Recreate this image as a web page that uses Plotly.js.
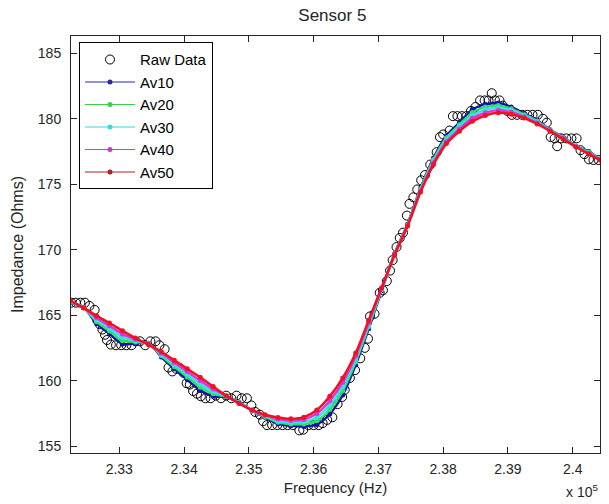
<!DOCTYPE html>
<html>
<head>
<meta charset="utf-8">
<script src="https://cdn.plot.ly/plotly-3.0.1.min.js"></script>
<style>html,body{margin:0;padding:0;background:#fff;}#chart{width:609px;height:504px;}</style>
</head>
<body>
<div id="chart"></div>
<script>
// Raw measurements (Hz, Ohms)
var rawFreq = [
 232260,232330,232400,232470,232540,232620,232660,232700,232740,232780,
 232810,232870,232950,233030,233110,233190,233250,233320,233400,233480,
 233560,233620,233700,233760,233820,233880,233940,233990,234040,234090,
 234140,234200,234260,234330,234410,234490,234570,234650,234730,234810,
 234890,234970,235040,235100,235170,235220,235280,235360,235440,235520,
 235600,235680,235780,235840,235920,236000,236080,236140,236210,236290,
 236370,236440,236480,236560,236640,236720,236790,236840,236870,236940,
 237020,237070,237130,237180,237220,237280,237330,237380,237440,237480,
 237540,237600,237660,237720,237800,237900,237950,238000,238100,238150,
 238220,238290,238360,238430,238500,238570,238640,238700,238750,238800,
 238870,238920,238990,239060,239140,239220,239300,239380,239460,239540,
 239600,239660,239720,239760,239820,239900,239980,240060,240120,240180,
 240250,240320,240400];
var rawImp = [
 165.95,165.95,165.95,165.95,165.7,165.4,164.6,164.3,163.9,163.5,
 163.1,162.75,162.7,162.7,162.7,162.7,163.0,163.0,162.7,163.0,
 163.0,162.7,162.4,161.0,160.7,160.9,160.95,160.6,159.8,159.7,
 159.2,159.0,158.8,158.65,158.65,158.85,158.65,158.85,158.65,158.85,
 158.65,158.65,158.1,157.6,157.4,156.9,156.6,156.6,156.6,156.6,
 156.6,156.6,156.2,156.25,156.6,156.6,156.6,156.75,157.0,157.2,
 158.2,158.75,159.3,160.2,160.8,161.7,162.5,163.2,164.9,165.1,
 166.7,166.9,167.6,168.4,169.2,170.2,170.9,171.3,172.6,173.5,
 174.0,174.6,175.3,175.7,176.5,177.45,178.6,178.8,179.1,180.2,
 180.2,180.2,180.2,180.6,180.9,181.4,181.4,181.4,181.95,181.4,
 181.4,181.0,180.6,180.3,180.3,180.3,180.3,180.3,180.3,180.0,
 179.7,178.6,178.5,177.9,178.5,178.5,178.5,178.5,177.6,177.3,
 176.9,176.85,176.85];

// Averaged series (Hz, Ohms)
var avFreq = [232250,232450,232650,232850,233050,233250,233450,233650,233850,234050,
 234250,234450,234650,234850,235050,235250,235450,235650,235850,236050,
 236250,236450,236650,236850,237050,237250,237450,237650,237850,238050,
 238250,238450,238650,238850,239050,239250,239450,239650,239850,240050,
 240250,240420];
var av10 = [165.95,165.60,164.35,163.57,162.80,162.85,162.85,161.80,160.90,160.07,
 159.25,158.80,158.75,158.35,157.70,157.20,156.70,156.55,156.50,156.65,
 157.45,158.90,161.20,163.96,166.87,169.70,171.94,174.70,177.00,178.70,
 179.70,180.70,181.10,181.20,180.90,180.40,179.90,179.15,178.60,177.90,
 177.50,176.90];
var av20 = [165.99,165.59,164.50,163.78,163.05,162.95,162.83,161.90,161.06,160.28,
 159.50,158.99,158.78,158.33,157.71,157.25,156.82,156.68,156.68,156.93,
 157.79,159.23,161.43,164.12,166.93,169.68,171.91,174.63,176.88,178.55,
 179.54,180.48,180.89,181.01,180.76,180.31,179.83,179.13,178.56,177.89,
 177.45,176.89];
var av30 = [166.03,165.58,164.65,163.99,163.30,163.05,162.80,162.00,161.23,160.49,
 159.75,159.18,158.80,158.30,157.73,157.30,156.94,156.82,156.85,157.20,
 158.13,159.55,161.65,164.28,166.99,169.65,171.87,174.55,176.75,178.40,
 179.38,180.25,180.68,180.83,180.63,180.23,179.75,179.10,178.53,177.88,
 177.40,176.88];
var av40 = [166.06,165.56,164.80,164.19,163.55,163.15,162.78,162.10,161.39,160.69,
 160.00,159.36,158.83,158.28,157.74,157.35,157.06,156.95,157.03,157.48,
 158.46,159.88,161.88,164.44,167.04,169.63,171.84,174.48,176.63,178.25,
 179.21,180.03,180.46,180.64,180.49,180.14,179.68,179.08,178.49,177.86,
 177.35,176.86];
var av50 = [166.10,165.55,164.95,164.40,163.80,163.25,162.75,162.20,161.55,160.90,
 160.25,159.55,158.85,158.25,157.75,157.40,157.18,157.08,157.20,157.75,
 158.80,160.20,162.10,164.60,167.10,169.60,171.80,174.40,176.50,178.10,
 179.05,179.80,180.25,180.45,180.35,180.05,179.60,179.05,178.45,177.85,
 177.30,176.85];

var seriesNames = ['Av10','Av20','Av30','Av40','Av50'];
var seriesValues = [av10, av20, av30, av40, av50];
var seriesColors = ['#1212a8','#30e060','#2fe6e6','#e030e0','#f0121e'];
var legendColors = ['#2a2a9c','#3ad04a','#3ad8d8','#c83cc8','#b02020'];

var xTickVals = [233000,234000,235000,236000,237000,238000,239000,240000];
var xTickText = ['2.33','2.34','2.35','2.36','2.37','2.38','2.39','2.4'];
var yTickVals = [155,160,165,170,175,180,185];

var FONT = 'Liberation Sans, Arial, Helvetica, sans-serif';
var AX = '#262626';

var traces = [{
  x: rawFreq, y: rawImp, name: 'Raw Data', type: 'scatter', mode: 'markers',
  legendrank: 1,
  marker: {symbol: 'circle-open', size: 9, color: '#000', line: {width: 1, color: '#000'}}
}];
// plotted averaged curves (thick, dense look)
seriesNames.forEach(function (n, i) {
  traces.push({
    x: avFreq, y: seriesValues[i], name: n, type: 'scatter', mode: 'lines+markers',
    legendgroup: n, showlegend: false,
    line: {color: seriesColors[i], width: 2.5, shape: 'spline', smoothing: 0.8},
    marker: {symbol: 'circle', size: 5, color: seriesColors[i]}
  });
});
// legend keys (thin line with dot, as in the reference legend)
seriesNames.forEach(function (n, i) {
  traces.push({
    x: [null], y: [null], name: n, type: 'scatter', mode: 'lines+markers',
    legendgroup: n, showlegend: true, legendrank: i + 2,
    line: {color: legendColors[i], width: 1},
    marker: {symbol: 'circle', size: 5, color: legendColors[i]}
  });
});

var layout = {
  width: 609, height: 504,
  margin: {l: 71, r: 9, t: 36, b: 51},
  paper_bgcolor: '#fff', plot_bgcolor: '#fff',
  font: {family: FONT, color: AX, size: 14},
  title: {text: 'Sensor 5', font: {family: FONT, size: 17, color: AX},
          x: 0.494, xref: 'paper', xanchor: 'center', y: 0.97, yanchor: 'middle'},
  xaxis: {
    range: [232255, 240421], tickmode: 'array', tickvals: xTickVals, ticktext: xTickText,
    ticks: 'inside', ticklen: 6, tickcolor: AX, showline: true, linecolor: AX, linewidth: 1,
    mirror: 'ticks', showgrid: false, zeroline: false, ticklabelstandoff: 3,
    tickfont: {family: FONT, size: 14, color: AX},
    title: {text: 'Frequency (Hz)', font: {family: FONT, size: 15, color: AX}, standoff: 6}
  },
  yaxis: {
    range: [154.47, 186.32], tickmode: 'array', tickvals: yTickVals,
    ticks: 'inside', ticklen: 6, tickcolor: AX, showline: true, linecolor: AX, linewidth: 1,
    mirror: 'ticks', showgrid: false, zeroline: false, ticklabelstandoff: 6,
    tickfont: {family: FONT, size: 14, color: AX},
    title: {text: 'Impedance (Ohms)', font: {family: FONT, size: 16, color: AX}, standoff: 10}
  },
  legend: {
    x: 0.0151, y: 0.985, xanchor: 'left', yanchor: 'top', xref: 'paper', yref: 'paper',
    bgcolor: '#fff', bordercolor: '#000', borderwidth: 1, traceorder: 'normal',
    font: {family: FONT, size: 15, color: '#000'}, itemwidth: 50, tracegroupgap: 0
  },
  annotations: [{
    text: 'x 10<sup>5</sup>', xref: 'paper', yref: 'paper', x: 1.0, y: -0.118,
    xanchor: 'right', yanchor: 'bottom', showarrow: false,
    font: {family: FONT, size: 14, color: AX}
  }],
  showlegend: true
};

Plotly.newPlot('chart', traces, layout, {displayModeBar: false, staticPlot: true});
</script>
</body>
</html>
